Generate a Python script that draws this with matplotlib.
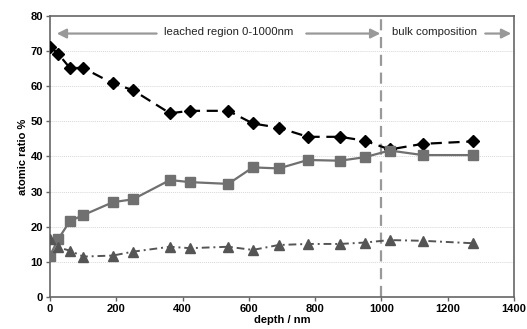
import matplotlib.pyplot as plt
import numpy as np

plt.rcParams['font.family'] = ['Liberation Sans', 'DejaVu Sans']

depth = [0, 25, 60, 100, 190, 250, 362, 422, 538, 612, 690, 778, 875, 950, 1025, 1125, 1276]
diamond = [71.3, 69.2, 65.2, 65.2, 60.8, 58.9, 52.3, 53.0, 53.0, 49.4, 48.2, 45.6, 45.6, 44.5, 42.0, 43.6, 44.3]
square = [11.8, 16.5, 21.6, 23.3, 27.0, 27.8, 33.3, 32.7, 32.2, 36.9, 36.6, 39.0, 38.8, 39.8, 41.7, 40.4, 40.4]
triangle = [16.4, 14.1, 13.2, 11.5, 11.8, 12.9, 14.3, 13.9, 14.3, 13.4, 14.8, 15.1, 15.1, 15.5, 16.2, 16.0, 15.3]

fig = plt.figure(figsize=(5.27, 3.29), dpi=100)
ax = fig.add_axes([0.0949, 0.0973, 0.8804, 0.8541])

for y in range(10, 80, 10):
    ax.axhline(y, color='#d8d8d8', lw=0.7, ls=(0, (1, 1)), zorder=0)

ax.plot(depth, diamond, color='black', ls=(0, (5, 3)), lw=1.6, marker='D', ms=6, zorder=3)
ax.plot(depth, square, color='#707070', ls='-', lw=1.6, marker='s', ms=7, zorder=3)
ax.plot(depth, triangle, color='#555555', ls=(0, (4, 2, 1, 2)), lw=1.4, marker='^', ms=7, zorder=3)

ax.axvline(1000, color='#999999', lw=1.6, ls=(0, (5, 3)), zorder=2)

arrow_kw = dict(arrowstyle='-|>', color='#999999', lw=1.6, mutation_scale=14)
ax.annotate('', xy=(12, 75), xytext=(330, 75), arrowprops=arrow_kw)
ax.annotate('', xy=(1005, 75), xytext=(765, 75), arrowprops=arrow_kw)
ax.text(540, 75.3, 'leached region 0-1000nm', ha='center', va='center', fontsize=8.2, color='#222222')
ax.annotate('', xy=(1400, 75), xytext=(1305, 75), arrowprops=arrow_kw, annotation_clip=False)
ax.text(1160, 75.3, 'bulk composition', ha='center', va='center', fontsize=8.2, color='#222222')

ax.set_xlim(0, 1400)
ax.set_ylim(0, 80)
ax.set_xticks(np.arange(0, 1401, 200))
ax.set_yticks(np.arange(0, 81, 10))
for lab in ax.get_xticklabels() + ax.get_yticklabels():
    lab.set_fontweight('bold')
ax.tick_params(labelsize=8, length=3, width=1, color='#666666', pad=2)
ax.set_xlabel('depth / nm', fontsize=8, fontweight='bold', labelpad=1)
ax.set_ylabel('atomic ratio %', fontsize=8, fontweight='bold', labelpad=2)
for sp in ax.spines.values():
    sp.set_color('#666666')
    sp.set_linewidth(1.2)

fig.savefig('out.png', dpi=100)
